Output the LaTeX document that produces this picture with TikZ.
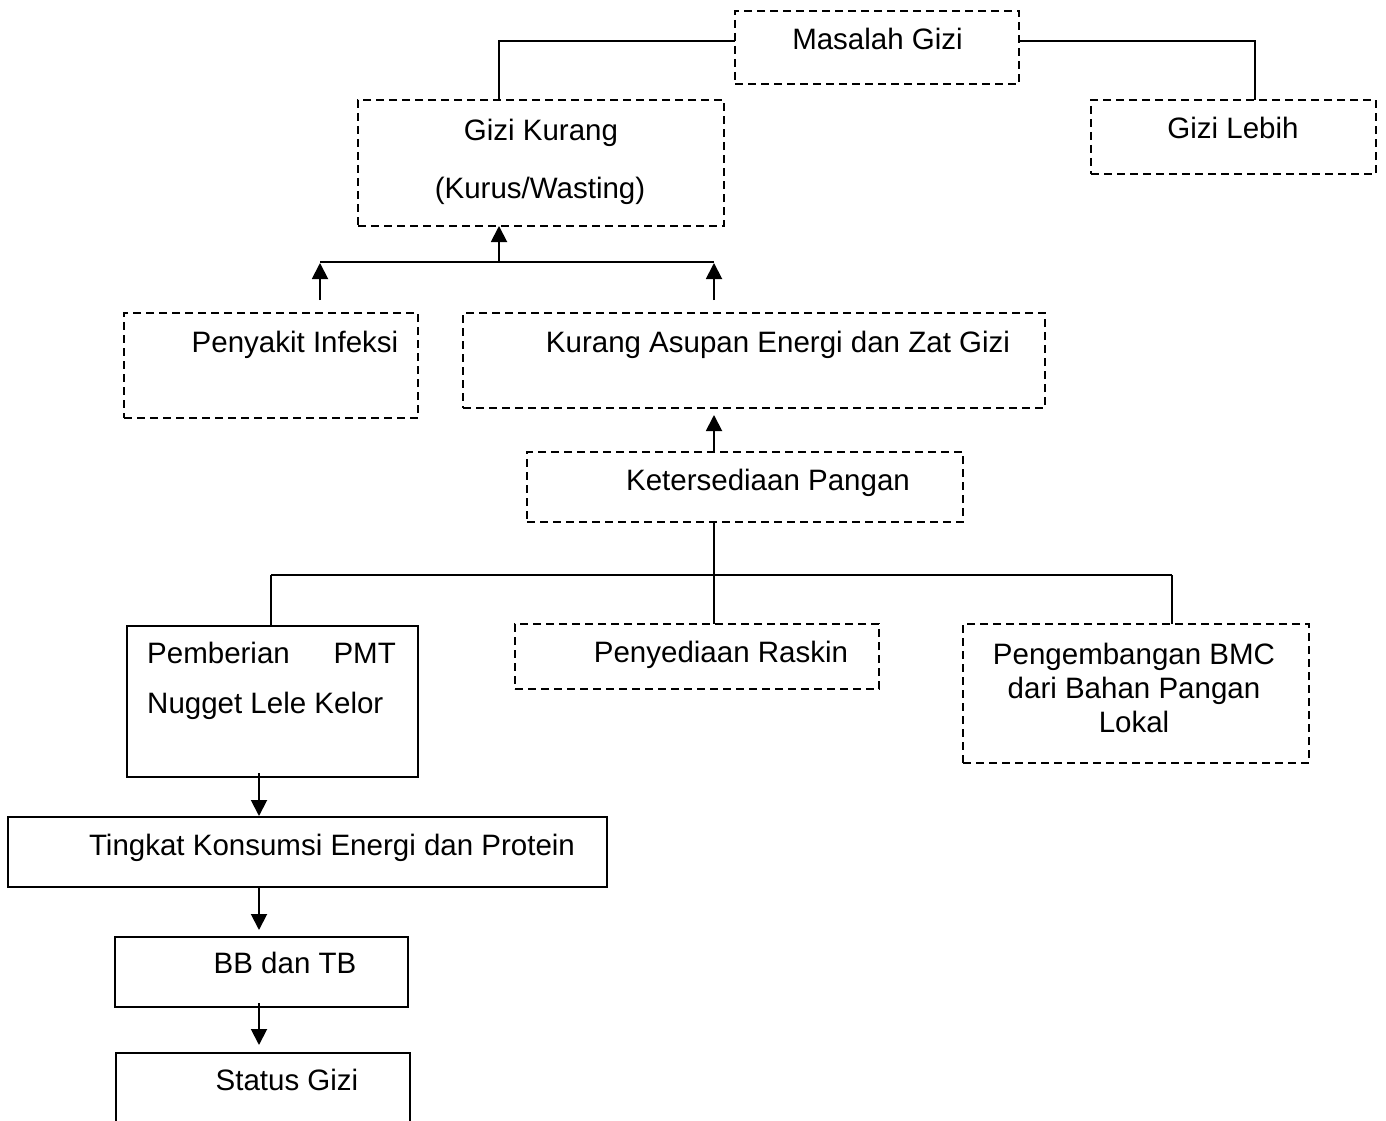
\documentclass[tikz,border=0pt]{standalone}
\usepackage{fontspec}
\setmainfont{Liberation Sans}
\usetikzlibrary{arrows.meta}
\tikzset{
  x=1pt, y=-1pt,
  base/.style={inner sep=0pt, outer sep=0pt, line width=1.6pt},
  dbox/.style={base, draw, dash pattern=on 8pt off 5pt},
  sbox/.style={base, draw},
  conn/.style={line width=1.9pt},
  arr/.style={conn, -{Triangle[length=16pt,width=16pt]}},
  txt/.style={inner sep=0pt, anchor=base, font=\fontsize{29.5}{34}\selectfont},
}
\newcommand{\mybox}[6]{\node[#6, minimum width={#4-#2}, minimum height={#5-#3}] (#1) at ({(#2+#4)/2},{(#3+#5)/2}) {};}
\begin{document}
\begin{tikzpicture}
\useasboundingbox (0,0) rectangle (1386,1121);
% boxes
\mybox{masalah}{735}{11}{1019}{84}{dbox}
\mybox{kurang}{358}{100}{724}{226}{dbox}
\mybox{lebih}{1091}{100}{1376}{174}{dbox}
\mybox{infeksi}{124}{313}{418}{418}{dbox}
\mybox{asupan}{463}{313}{1045}{408}{dbox}
\mybox{sedia}{527}{452}{963}{522}{dbox}
\mybox{pmt}{127}{626}{418}{777}{sbox}
\mybox{raskin}{515}{624}{879}{689}{dbox}
\mybox{bmc}{963}{624}{1309}{763}{dbox}
\mybox{tingkat}{8}{817}{607}{887}{sbox}
\mybox{bb}{115}{937}{408}{1007}{sbox}
\node[base, minimum width=294pt, minimum height=70pt] (status) at (263,1088) {};
\draw[line width=1.6pt] (status.south west) -- (status.north west) -- (status.north east) -- (status.south east);
% texts
\node[txt] (tmasalah) at (877.5,50) {Masalah Gizi};
\node[txt] (tkurang1) at (541,141) {Gizi Kurang};
\node[txt] (tkurang2) at (540,198) {(Kurus/Wasting)};
\node[txt] (tlebih) at (1233,139) {Gizi Lebih};
\node[txt] (tinfeksi) at (295,352) {Penyakit Infeksi};
\node[txt] (tasupan) at (778,352) {Kurang Asupan Energi dan Zat Gizi};
\node[txt] (tsedia) at (768,490) {Ketersediaan Pangan};
\node[txt] (traskin) at (721,662) {Penyediaan Raskin};
\node[txt, anchor=base west] (tpmt1) at (147,663) {Pemberian};
\node[txt, anchor=base east] (tpmt2) at (396,663) {PMT};
\node[txt, anchor=base west] (tpmt3) at (147,713) {Nugget Lele Kelor};
\node[txt] (tbmc1) at (1134,664) {Pengembangan BMC};
\node[txt] (tbmc2) at (1134,698) {dari Bahan Pangan};
\node[txt] (tbmc3) at (1134,732) {Lokal};
\node[txt] (ttingkat) at (332,855) {Tingkat Konsumsi Energi dan Protein};
\node[txt] (tbb) at (285,973) {BB dan TB};
\node[txt] (tstatus) at (287,1090) {Status Gizi};
% connectors top
\draw[conn] ([yshift=6.5pt]masalah.west) -| ([xshift=-42pt]kurang.north);
\draw[conn] ([yshift=6.5pt]masalah.east) -| ([xshift=21.5pt]lebih.north);
\coordinate (jm) at (499,262);
\coordinate (jl) at (320,262);
\coordinate (jr) at (714,262);
\coordinate (al) at (320,300);
\coordinate (ar) at (714,300);
\draw[conn] (jl) -- (jr);
\draw[arr] (jm) -- (jm |- kurang.south);
\draw[arr] (al) -- ([yshift=-1pt]jl);
\draw[arr] (ar) -- ([yshift=-1pt]jr);
\draw[arr, shorten >=7pt] ([xshift=-31pt]sedia.north) -- ([xshift=-31pt]sedia.north |- asupan.south);
\draw[conn] ([xshift=-31pt]sedia.south) -- ([xshift=-31pt]sedia.south |- raskin.north);
\coordinate (h1) at (271,575);
\coordinate (h2) at (1172,575);
\draw[conn] (h1) -- (h2);
\draw[conn] (h1) -- (h1 |- pmt.north);
\draw[conn] (h2) -- (h2 |- bmc.north);
% down arrows
\coordinate (ax) at (259,0);
\draw[arr, shorten >=1pt] ([yshift=4pt]pmt.south -| ax) -- (tingkat.north -| ax);
\draw[arr, shorten >=7pt] (tingkat.south -| ax) -- (bb.north -| ax);
\draw[arr, shorten >=8pt] ([yshift=4pt]bb.south -| ax) -- (status.north -| ax);
\end{tikzpicture}
\end{document}
